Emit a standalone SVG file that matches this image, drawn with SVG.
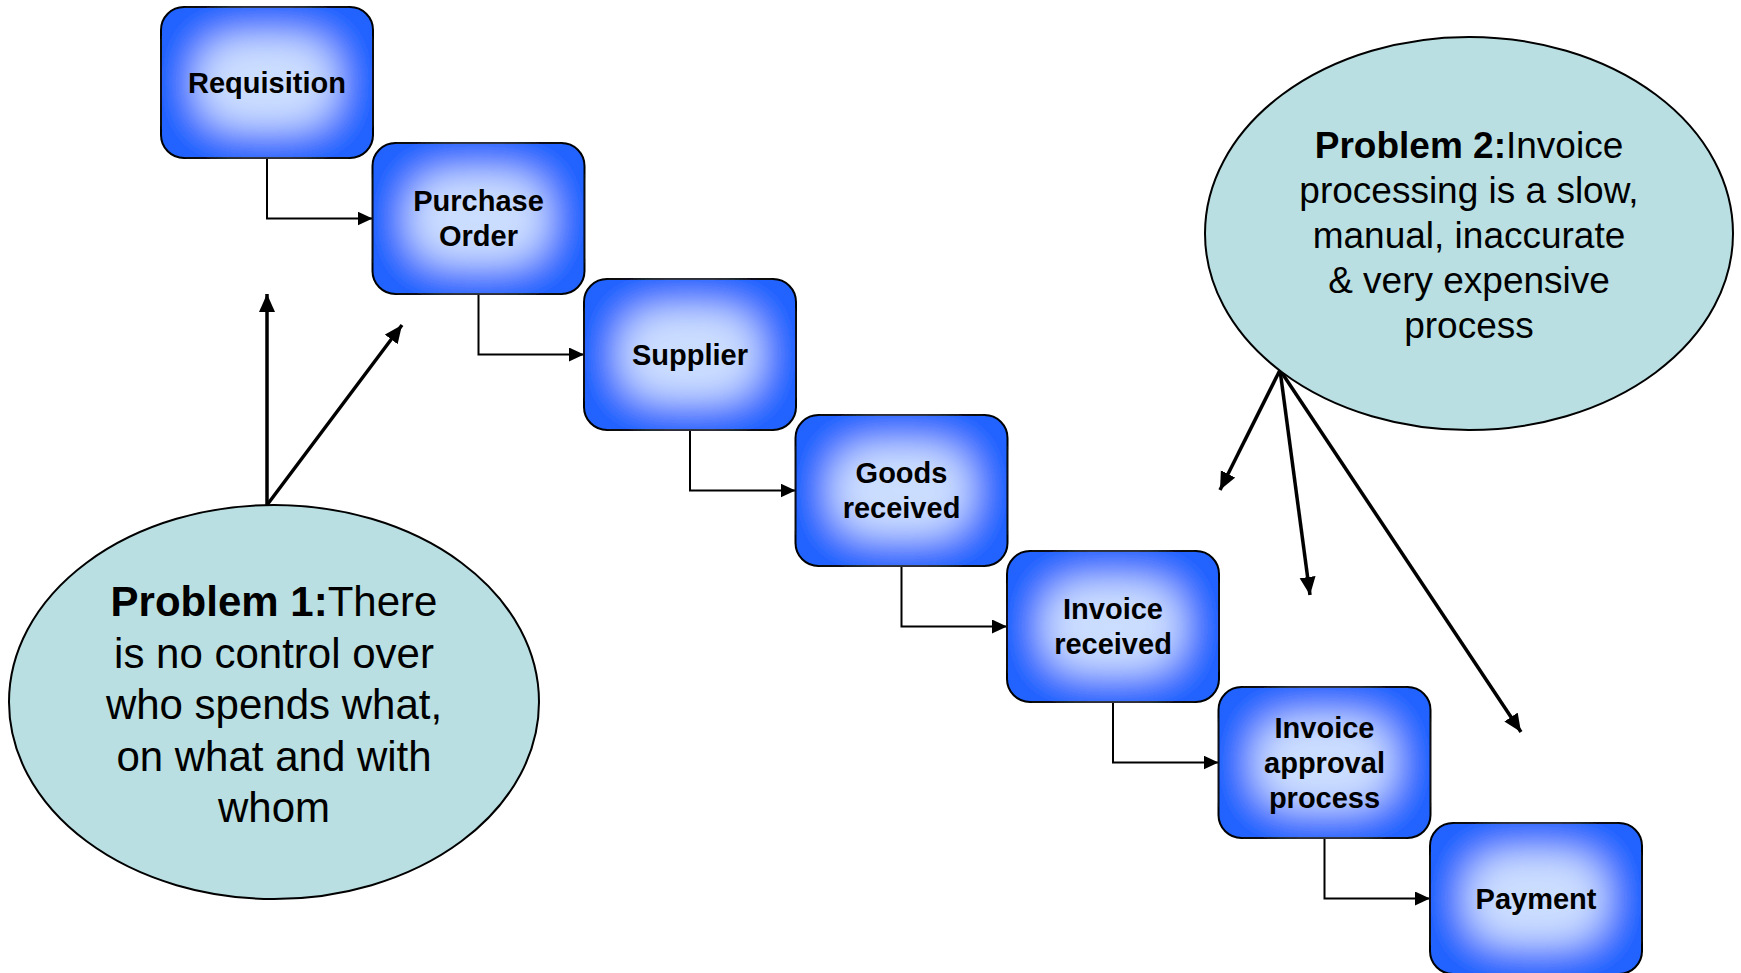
<svg xmlns="http://www.w3.org/2000/svg" width="1741" height="973" viewBox="0 0 1741 973">
<style>
.box{stroke:#000;stroke-width:2;fill:#2064ff;filter:url(#glow)}
.lbl{font-family:"Liberation Sans",Arial,sans-serif;font-weight:bold;font-size:29px;fill:#000;text-anchor:middle}
.ell{fill:#b9dfe2;stroke:#000;stroke-width:2}
.ptxt{font-family:"Liberation Sans",Arial,sans-serif;fill:#000;text-anchor:middle}
.b{font-weight:bold}
.flow{fill:none;stroke:#000;stroke-width:2;marker-end:url(#ah)}
.pa{fill:none;stroke:#000;stroke-width:3.5;marker-end:url(#ah2)}
</style>
<defs>
<filter id="glow" x="-5%" y="-5%" width="110%" height="110%">
<feMorphology in="SourceAlpha" operator="erode" radius="46 40" result="er"/>
<feGaussianBlur in="er" stdDeviation="22" result="bl"/>
<feFlood flood-color="#ccdeff" result="fl"/>
<feComposite in="fl" in2="bl" operator="in" result="lt"/>
<feComposite in="lt" in2="SourceAlpha" operator="in" result="ltc"/>
<feMerge>
<feMergeNode in="SourceGraphic"/>
<feMergeNode in="ltc"/>
<feMergeNode in="ltc"/>
</feMerge>
</filter>
<marker id="ah" markerUnits="userSpaceOnUse" markerWidth="16" markerHeight="14" refX="15" refY="7" orient="auto">
<path d="M0,0 L15,7 L0,14 z" fill="#000"/>
</marker>
<marker id="ah2" markerUnits="userSpaceOnUse" markerWidth="20" markerHeight="18" refX="18" refY="8" orient="auto">
<path d="M0,0 L18,8 L0,16 z" fill="#000"/>
</marker>
</defs>
<rect width="1741" height="973" fill="#fff"/>

<g id="connectors">
<path class="flow" d="M267,158 V218.5 H372.5"/>
<path class="flow" d="M478.5,294 V354.5 H584"/>
<path class="flow" d="M690,430 V490.5 H795.5"/>
<path class="flow" d="M901.5,566 V626.5 H1007"/>
<path class="flow" d="M1113,702 V762.5 H1218.5"/>
<path class="flow" d="M1324.5,838 V898.5 H1430"/>
<path class="pa" d="M267,505 L267,294"/>
<path class="pa" d="M267,505 L402,325"/>
<path class="pa" d="M1280,370 L1220,490"/>
<path class="pa" d="M1280,370 L1310,595"/>
<path class="pa" d="M1280,370 L1521,732"/>
</g>

<g id="requisition">
<rect class="box" x="161" y="7" width="212" height="151" rx="23"/>
<text class="lbl" x="267" y="92.5">Requisition</text>
</g>
<g id="purchase-order">
<rect class="box" x="372.5" y="143" width="212" height="151" rx="23"/>
<text class="lbl" x="478.5" y="211">Purchase</text>
<text class="lbl" x="478.5" y="246">Order</text>
</g>
<g id="supplier">
<rect class="box" x="584" y="279" width="212" height="151" rx="23"/>
<text class="lbl" x="690" y="364.5">Supplier</text>
</g>
<g id="goods-received">
<rect class="box" x="795.5" y="415" width="212" height="151" rx="23"/>
<text class="lbl" x="901.5" y="483">Goods</text>
<text class="lbl" x="901.5" y="518">received</text>
</g>
<g id="invoice-received">
<rect class="box" x="1007" y="551" width="212" height="151" rx="23"/>
<text class="lbl" x="1113" y="619">Invoice</text>
<text class="lbl" x="1113" y="654">received</text>
</g>
<g id="invoice-approval">
<rect class="box" x="1218.5" y="687" width="212" height="151" rx="23"/>
<text class="lbl" x="1324.5" y="737.5">Invoice</text>
<text class="lbl" x="1324.5" y="772.5">approval</text>
<text class="lbl" x="1324.5" y="807.5">process</text>
</g>
<g id="payment">
<rect class="box" x="1430" y="823" width="212" height="151" rx="23"/>
<text class="lbl" x="1536" y="908.5">Payment</text>
</g>

<g id="problem1">
<ellipse class="ell" cx="274" cy="702" rx="265" ry="197"/>
<text class="ptxt" font-size="42" x="274" y="616"><tspan class="b">Problem 1:</tspan>There</text>
<text class="ptxt" font-size="42" x="274" y="667.5">is no control over</text>
<text class="ptxt" font-size="42" x="274" y="719">who spends what,</text>
<text class="ptxt" font-size="42" x="274" y="770.5">on what and with</text>
<text class="ptxt" font-size="42" x="274" y="822">whom</text>
</g>

<g id="problem2">
<ellipse class="ell" cx="1469" cy="233.5" rx="264" ry="196.5"/>
<text class="ptxt" font-size="37" x="1469" y="158"><tspan class="b">Problem 2:</tspan>Invoice</text>
<text class="ptxt" font-size="37" x="1469" y="203">processing is a slow,</text>
<text class="ptxt" font-size="37" x="1469" y="248">manual, inaccurate</text>
<text class="ptxt" font-size="37" x="1469" y="293">&amp; very expensive</text>
<text class="ptxt" font-size="37" x="1469" y="338">process</text>
</g>
</svg>
